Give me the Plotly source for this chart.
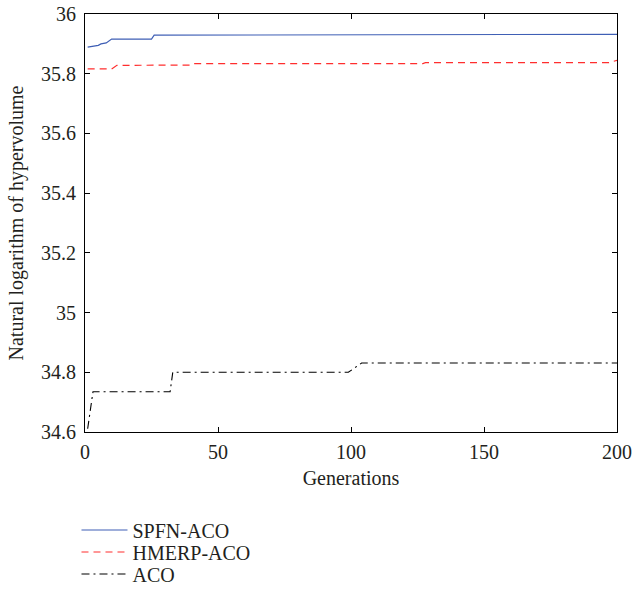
import plotly.graph_objects as go

spfn_gen = [1, 3, 5, 6, 8, 10, 25, 26, 110, 200]
spfn_val = [35.889, 35.893, 35.895, 35.900, 35.903, 35.916, 35.916, 35.929, 35.931, 35.932]

hmerp_gen = [1, 10, 12, 40, 41, 127, 128, 197, 200]
hmerp_val = [35.816, 35.816, 35.828, 35.829, 35.834, 35.834, 35.837, 35.837, 35.845]

aco_gen = [1, 3, 32, 33, 99, 104, 200]
aco_val = [34.611, 34.735, 34.735, 34.800, 34.800, 34.831, 34.831]

x_ticks = [0, 50, 100, 150, 200]
y_ticks = [34.6, 34.8, 35, 35.2, 35.4, 35.6, 35.8, 36]
y_labels = ["34.6", "34.8", "35", "35.2", "35.4", "35.6", "35.8", "36"]

FONT = "Liberation Serif"
FS = 20
TXT = "#231f20"

fig = go.Figure()
fig.add_trace(go.Scatter(x=spfn_gen, y=spfn_val, mode="lines", name="SPFN-ACO",
                         line=dict(color="#3f5fb5", width=1.2), legend="legend"))
fig.add_trace(go.Scatter(x=hmerp_gen, y=hmerp_val, mode="lines", name="HMERP-ACO",
                         line=dict(color="#ff2e2e", width=1.2, dash="7px,5px"), legend="legend2"))
fig.add_trace(go.Scatter(x=aco_gen, y=aco_val, mode="lines", name="ACO",
                         line=dict(color="#000000", width=1.1, dash="8px,4px,2px,4px"), legend="legend3"))

axis_common = dict(showgrid=False, zeroline=False, showline=True, linecolor="black",
                   linewidth=1, mirror="ticks", ticks="inside", ticklen=5,
                   tickcolor="black", automargin=False, ticklabeloverflow="allow",
                   tickfont=dict(family=FONT, size=FS, color=TXT))

leg_common = dict(x=-0.016, xanchor="left", yanchor="middle", bgcolor="rgba(0,0,0,0)",
                  font=dict(family=FONT, size=FS, color=TXT), itemwidth=46)

fig.update_layout(
    width=633, height=591,
    margin=dict(l=85, r=16, t=14, b=159, autoexpand=False),
    paper_bgcolor="white", plot_bgcolor="white",
    font=dict(family=FONT, size=FS, color=TXT),
    xaxis=dict(range=[0, 200], tickvals=x_ticks, ticklabelstandoff=2,
               title=dict(text="Generations", font=dict(family=FONT, size=FS, color=TXT), standoff=8),
               **axis_common),
    yaxis=dict(range=[34.6, 36], tickvals=y_ticks, ticktext=y_labels, ticklabelstandoff=4,
               title=dict(text="Natural logarithm of hypervolume", font=dict(family=FONT, size=FS, color=TXT), standoff=12),
               **axis_common),
    showlegend=True,
    legend=dict(y=-0.2344, **leg_common),
    legend2=dict(y=-0.2871, **leg_common),
    legend3=dict(y=-0.3397, **leg_common),
)

# remove the page's default 8px body margin so the figure fills the window exactly
fig.write_html("out.html", config={"displayModeBar": False},
               post_script="document.body.style.margin='0';")
